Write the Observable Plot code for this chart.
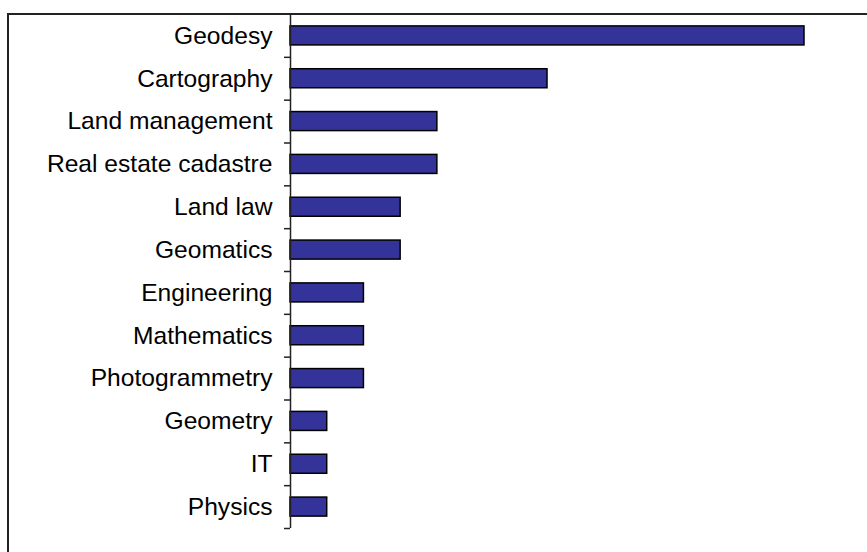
<!DOCTYPE html>
<html>
<head>
<meta charset="utf-8">
<script src="https://cdn.jsdelivr.net/npm/d3@7"></script>
<script src="https://cdn.jsdelivr.net/npm/@observablehq/plot@0.6"></script>
<style>
  html, body { margin: 0; padding: 0; background: #fff; }
  #wrap { position: relative; width: 867px; height: 552px; overflow: hidden; }
  #frame { position: absolute; left: 7px; top: 13px; width: 900px; height: 600px;
           border-left: 2px solid #222; border-top: 2px solid #222; box-sizing: border-box; }
  #chart { position: absolute; left: 0; top: 0; }
</style>
</head>
<body>
<div id="wrap"><div id="frame"></div><div id="chart"></div></div>
<script>
const categories = ["Geodesy", "Cartography", "Land management", "Real estate cadastre",
  "Land law", "Geomatics", "Engineering", "Mathematics", "Photogrammetry",
  "Geometry", "IT", "Physics"];
const counts = [14, 7, 4, 4, 3, 3, 2, 2, 2, 1, 1, 1];

const data = categories.map((c, i) => ({category: c, value: counts[i]}));

const W = 867, H = 552, mTop = 14, mBottom = 24, mLeft = 290, mRight = 63;
const step = (H - mTop - mBottom) / categories.length;

const chart = Plot.plot({
  width: W,
  height: H,
  marginTop: mTop,
  marginBottom: mBottom,
  marginLeft: mLeft,
  marginRight: mRight,
  style: {fontFamily: "Arial, 'Liberation Sans', sans-serif", fontSize: "24.6px", background: "transparent", color: "#000"},
  x: {domain: [0, 14], axis: null},
  y: {domain: categories, paddingInner: 0.556, paddingOuter: 0.278, align: 0.5, round: false, label: null},
  marks: [
    Plot.barX(data, {y: "category", x: "value", fill: "#333399", stroke: "#000", strokeWidth: 1.5}),
    Plot.axisY({tickSize: 0, tickPadding: 18, fontSize: 24.6, fill: "#000", label: null}),
    Plot.axisY({tickSize: 6, tickFormat: () => "", dy: step / 2, stroke: "#222", strokeWidth: 1.5, label: null}),
    Plot.ruleX([0], {stroke: "#222", strokeWidth: 1.5})
  ]
});
document.getElementById("chart").appendChild(chart);
</script>
</body>
</html>
